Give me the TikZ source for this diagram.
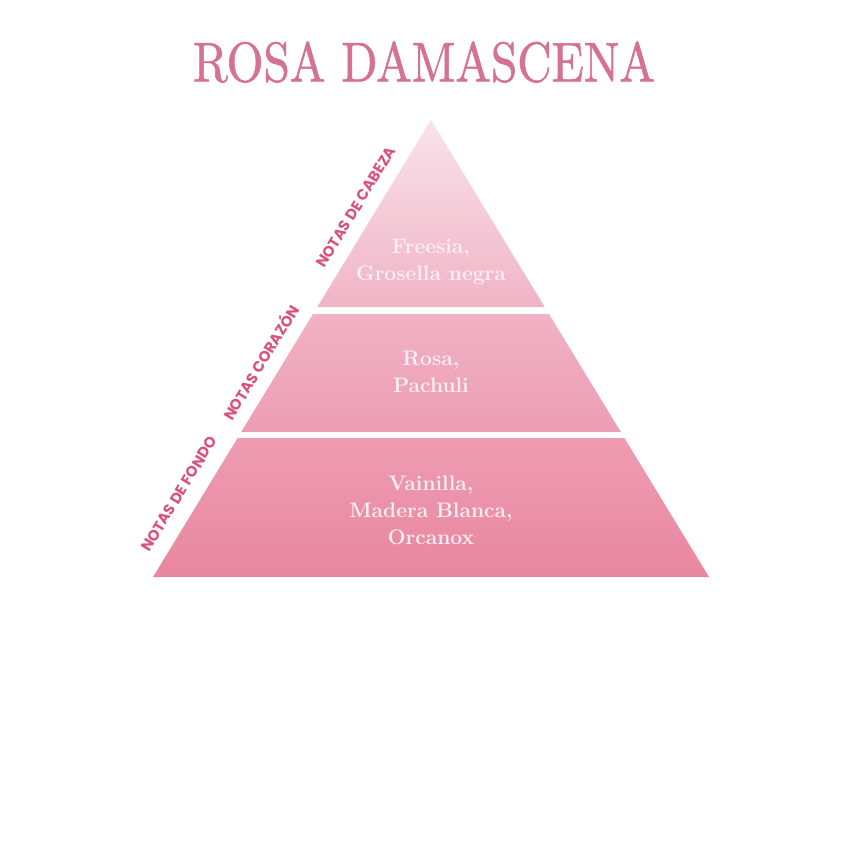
\documentclass[tikz,border=0pt]{standalone}
\usepackage{fontspec}
\newfontfamily\labelfont{Poppins}
\newfontfamily\titlefont{lmroman10-regular.otf}[FakeBold=1.2]
\definecolor{titlepink}{HTML}{D5728F}
\definecolor{labelpink}{HTML}{D9527E}
\definecolor{textwhite}{HTML}{FCF0F4}
\definecolor{aTop}{HTML}{F9E2EA}
\definecolor{aBot}{HTML}{F0B4C6}
\definecolor{bTop}{HTML}{F1B2C4}
\definecolor{bBot}{HTML}{EC9DB3}
\definecolor{cTop}{HTML}{EE9CB3}
\definecolor{cBot}{HTML}{E8879F}
\tikzset{
  bandtext/.style={text=textwhite, font=\fontsize{21}{27}\selectfont\bfseries, align=center, inner sep=0pt},
  sidelabel/.style={text=labelpink, font=\labelfont\fontsize{15}{15}\selectfont\bfseries, rotate=58.7, inner sep=0pt},
  titletext/.style={text=titlepink, inner sep=0pt}
}
\begin{document}
\begin{tikzpicture}[x=1pt,y=-1pt]
\useasboundingbox (0,0) rectangle (850,850);
\fill[white] (0,0) rectangle (850,850);
% band corners
\coordinate (apex) at (431,120);
\coordinate (t1l) at (317.3,307);
\coordinate (t1r) at (544.7,307);
\coordinate (m0l) at (313.0,314);
\coordinate (m0r) at (549.0,314);
\coordinate (m1l) at (241.2,432);
\coordinate (m1r) at (620.8,432);
\coordinate (b0l) at (237.6,438);
\coordinate (b0r) at (624.4,438);
\coordinate (b1l) at (153,577);
\coordinate (b1r) at (709,577);
\shade[top color=aTop, bottom color=aBot] (apex) -- (t1r) -- (t1l) -- cycle;
\shade[top color=bTop, bottom color=bBot] (m0l) -- (m0r) -- (m1r) -- (m1l) -- cycle;
\shade[top color=cTop, bottom color=cBot] (b0l) -- (b0r) -- (b1r) -- (b1l) -- cycle;
% title
\node[titletext] (title) at (424,62) {\resizebox{462pt}{40pt}{\titlefont\fontsize{47}{47}\selectfont ROSA DAMASCENA}};
% band texts
\node[bandtext] (top) at (431,262) {Freesia,\\Grosella negra};
\node[bandtext] (mid) at (431,372) {Rosa,\\Pachuli};
\node[bandtext] (bot) at (431,510) {Vainilla,\\Madera Blanca,\\Orcanox};
% side labels
\node[sidelabel] (lcab) at (356,207) {NOTAS DE CABEZA};
\node[sidelabel] (lcor) at (260,362) {NOTAS CORAZÓN};
\node[sidelabel] (lfon) at (179,494) {NOTAS DE FONDO};
\end{tikzpicture}
\end{document}
